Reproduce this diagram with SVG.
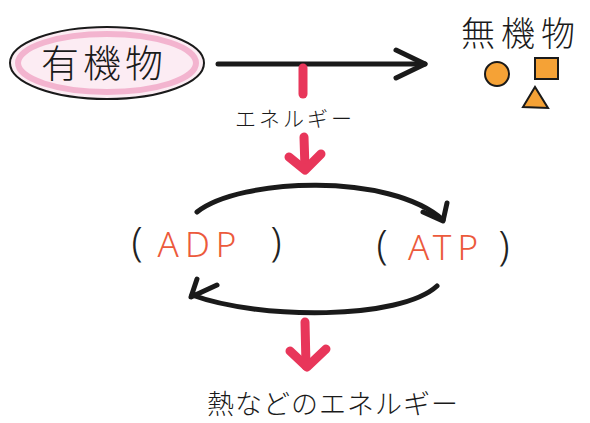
<svg xmlns="http://www.w3.org/2000/svg" width="590" height="423" viewBox="0 0 590 423">
<style>
.jp{font-family:"Noto Sans CJK JP","Noto Sans CJK SC",sans-serif;fill:#1a1a1a;font-weight:300;}
.red{font-family:"Noto Sans","Liberation Sans",sans-serif;fill:#ec5a3c;font-weight:300;}
.paren{font-family:"Noto Sans","Liberation Sans",sans-serif;fill:#222;font-weight:300;}
.blk{fill:none;stroke:#1a1a1a;stroke-width:5;stroke-linecap:round;stroke-linejoin:round;}
.pink{fill:none;stroke:#e8365a;stroke-width:9;stroke-linecap:round;stroke-linejoin:round;}
.org{fill:#f5a236;stroke:#1a1a1a;stroke-width:2;}
</style>
<rect width="590" height="423" fill="#ffffff"/>
<g id="organic">
<ellipse cx="107" cy="63" rx="97" ry="36" fill="#fcecf3" stroke="#1a1a1a" stroke-width="2"/>
<ellipse cx="107" cy="63" rx="89" ry="29" fill="none" stroke="#f0a6c6" stroke-width="6" opacity="0.8"/>
<text class="jp" x="104" y="77" font-size="38" text-anchor="middle" letter-spacing="4">有機物</text>
</g>
<g id="inorganic">
<text class="jp" x="521" y="46" font-size="34" text-anchor="middle" letter-spacing="6">無機物</text>
<circle class="org" cx="497" cy="74" r="12"/>
<rect class="org" x="535" y="58" width="23" height="21"/>
<polygon class="org" points="523,107 535,87 548,108"/>
</g>
<g id="energy">
<text class="jp" x="295" y="126" font-size="21" text-anchor="middle" letter-spacing="3">エネルギー</text>
</g>
<g id="adp">
<text class="paren" x="137" y="256" font-size="40" text-anchor="middle">(</text>
<text class="red" x="200" y="257" font-size="35" text-anchor="middle" letter-spacing="6">ADP</text>
<text class="paren" x="276" y="256" font-size="40" text-anchor="middle">)</text>
</g>
<g id="atp">
<text class="paren" x="382" y="259" font-size="40" text-anchor="middle">(</text>
<text class="red" x="446" y="260" font-size="35" text-anchor="middle" letter-spacing="6">ATP</text>
<text class="paren" x="504" y="260" font-size="40" text-anchor="middle">)</text>
</g>
<g id="heat">
<text class="jp" x="333" y="414" font-size="27" text-anchor="middle" letter-spacing="1">熱などのエネルギー</text>
</g>
<g id="connectors">
<path class="blk" d="M218,64 L425,64"/>
<path class="blk" d="M396,50 L425,64 L396,78"/>
<path class="pink" d="M303,68 L303,94"/>
<path class="pink" d="M304,137 L305,169"/>
<path class="pink" d="M289,157 L305,170 L321,154"/>
<path class="blk" d="M197,212 C240,178 390,172 443,220"/>
<path class="blk" d="M423,212 L443,221 L447,203"/>
<path class="blk" d="M437,286 C400,320 260,320 192,295"/>
<path class="blk" d="M197,279 L191,297 L217,285"/>
<path class="pink" d="M305,322 L306,366"/>
<path class="pink" d="M290,351 L307,367 L326,349"/>
</g>
</svg>
